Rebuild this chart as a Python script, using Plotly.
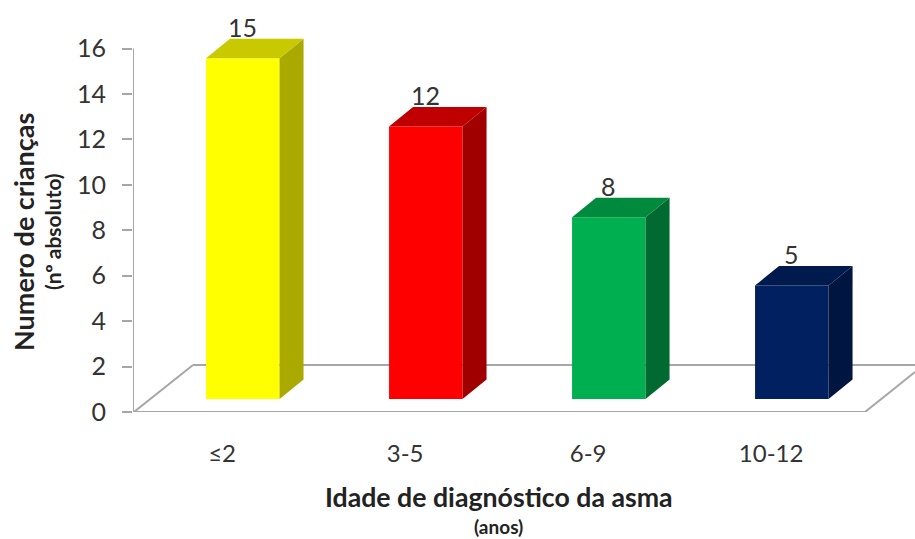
import plotly.graph_objects as go

categories = ["≤2", "3-5", "6-9", "10-12"]
values = [15, 12, 8, 5]
front_colors = ["#ffff00", "#ff0000", "#00b050", "#002060"]
top_colors = ["#c9c900", "#bf0000", "#008a3e", "#001a4d"]
side_colors = ["#a9a900", "#a00000", "#006a30", "#00153f"]
y_ticks = [0, 2, 4, 6, 8, 10, 12, 14, 16]

W, H = 915, 539
ML, MT, MB = 133, 0, 127
PX_X = 183.0
PX_Y = 363.5 / 16
X_MAX = (W - ML) / PX_X
Y_MAX = (H - MB - MT) / PX_Y

BAR_W = 73.5 / PX_X
BAR_SHIFT = 0.6
LABEL_SHIFT = 0.487
BASE = 13 / PX_Y
DX = 24 / PX_X
DY = 19.5 / PX_Y
FLOOR_DX = 60 / PX_X
FLOOR_DY = 47 / PX_Y
GREY = "#a6a6a6"

fig = go.Figure()
centers = [i + BAR_SHIFT for i in range(len(values))]
fig.add_bar(x=centers, y=values, base=[BASE] * len(values), width=BAR_W,
            marker=dict(color=front_colors, line=dict(width=0)), showlegend=False)

for c, v, tc, sc in zip(centers, values, top_colors, side_colors):
    l, r, b, t = c - BAR_W / 2, c + BAR_W / 2, BASE, BASE + v
    fig.add_scatter(x=[r, r + DX, r + DX, r, r], y=[b, b + DY, t + DY, t, b],
                    mode="lines", fill="toself", fillcolor=sc, line=dict(width=0),
                    showlegend=False)
    fig.add_scatter(x=[l, r, r + DX, l + DX, l], y=[t, t, t + DY, t + DY, t],
                    mode="lines", fill="toself", fillcolor=tc, line=dict(width=0),
                    showlegend=False)


def paper_x(px):
    return (px - ML) / (W - ML)


def paper_y(px):
    return (H - MB - px) / (H - MB - MT)


def title(text, x_px, y_px, size, angle=0):
    return dict(text=f"<b>{text}</b>", xref="paper", yref="paper", x=paper_x(x_px), y=paper_y(y_px),
                xanchor="center", yanchor="middle", textangle=angle, showarrow=False,
                font=dict(family="Lato", size=size, color="#222222"))


value_labels = [
    dict(text=str(v), xref="x", yref="y", x=c, y=v + BASE + DY, xanchor="center", yanchor="bottom",
         yshift=-5, showarrow=False, font=dict(family="Lato", size=25, color="#333333"))
    for c, v in zip(centers, values)
]

floor_line = dict(color=GREY, width=2)
fig.update_layout(
    width=W, height=H, autosize=False,
    margin=dict(l=ML, r=0, t=MT, b=MB, pad=0),
    paper_bgcolor="white", plot_bgcolor="white",
    showlegend=False,
    xaxis=dict(range=[0, X_MAX], tickmode="array",
               tickvals=[i + LABEL_SHIFT for i in range(len(categories))],
               ticktext=categories, ticks="", showgrid=False, zeroline=False,
               showline=False, ticklabelstandoff=25,
               tickfont=dict(family="Lato", size=24, color="#333333")),
    yaxis=dict(range=[0, Y_MAX], tickmode="array", tickvals=y_ticks, ticks="outside",
               ticklen=10, tickwidth=2, tickcolor=GREY, showgrid=False, zeroline=False,
               showline=False, ticklabelstandoff=11,
               tickfont=dict(family="Lato", size=25, color="#333333")),
    shapes=[
        dict(type="line", xref="x", yref="y", x0=0, y0=0, x1=0, y1=16, line=floor_line, layer="below"),
        dict(type="line", xref="x", yref="y", x0=0, y0=0, x1=4, y1=0, line=floor_line, layer="below"),
        dict(type="line", xref="x", yref="y", x0=0.005, y0=0, x1=FLOOR_DX, y1=FLOOR_DY, line=floor_line, layer="below"),
        dict(type="line", xref="x", yref="y", x0=FLOOR_DX, y0=FLOOR_DY, x1=X_MAX, y1=FLOOR_DY, line=floor_line, layer="below"),
        dict(type="line", xref="x", yref="y", x0=4, y0=0, x1=X_MAX, y1=40 / PX_Y, line=floor_line, layer="below"),
    ],
    annotations=value_labels + [
        title("Numero de crianças", 23, 232, 27, -90),
        title("(nº absoluto)", 52, 232, 21, -90),
        title("Idade de diagnóstico da asma", 499, 497, 26.7),
        title("(anos)", 498, 526, 19),
    ],
)
fig.write_html("out.html", config={"displayModeBar": False},
               post_script="document.body.style.margin='0';document.documentElement.style.margin='0';")
